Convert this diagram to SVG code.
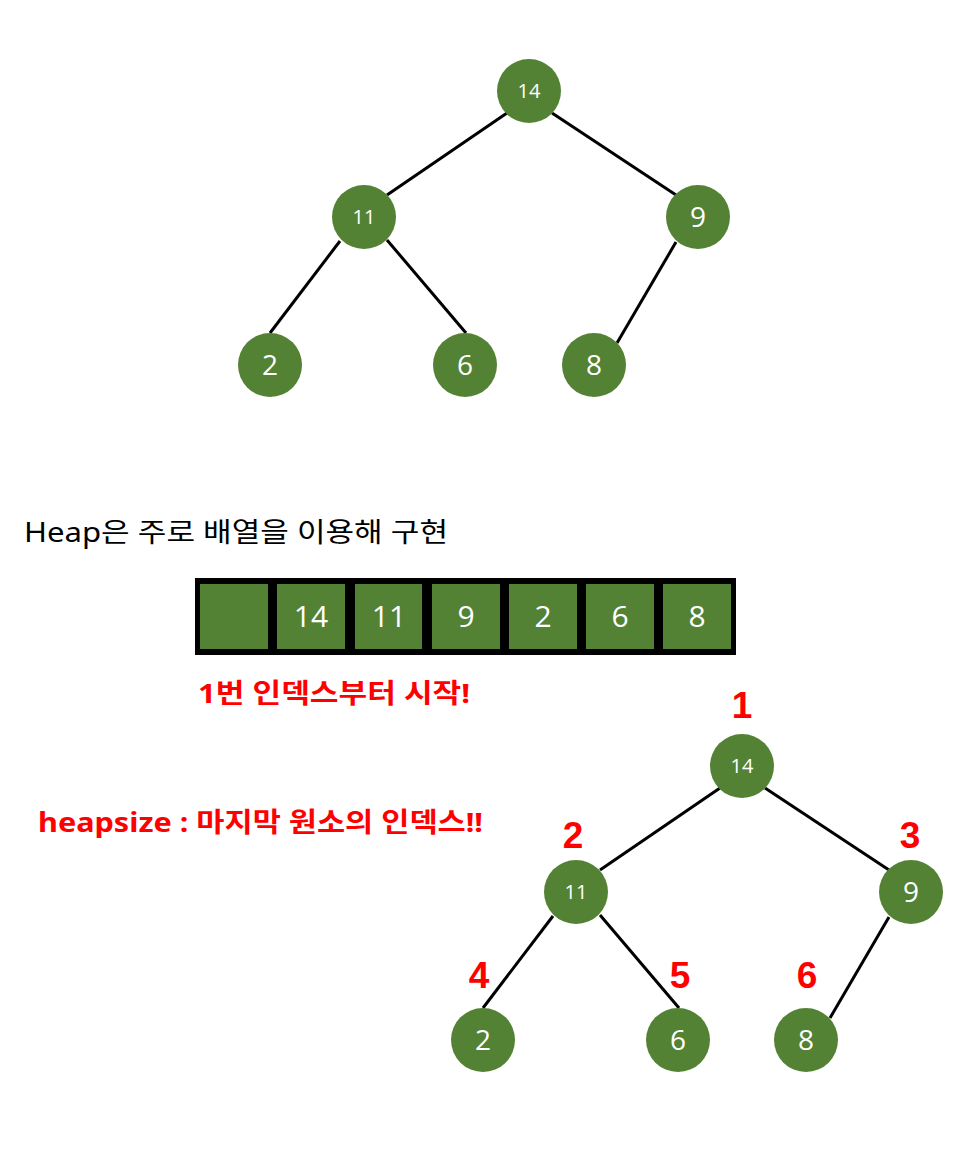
<svg xmlns="http://www.w3.org/2000/svg" width="976" height="1174" viewBox="0 0 976 1174">
<style>
.n{fill:#548235}
.e{stroke:#000;stroke-width:3;fill:none}
.t{fill:#fff;font-family:"Open Sans","Noto Sans",sans-serif;text-anchor:middle;font-size:28px}
.s{font-size:20px}
.a{fill:#fff;font-family:"Open Sans","Noto Sans",sans-serif;text-anchor:middle;font-size:30px}
.idx{fill:#ff0000;font-family:"Liberation Sans",Arial,sans-serif;font-weight:bold;text-anchor:middle;font-size:37px}
.kr{font-family:"Noto Sans","Noto Sans CJK KR",sans-serif;font-size:27px}
.red{fill:#ff0000;font-weight:bold}
</style>
<rect width="976" height="1174" fill="#fff"/>
<g id="edges-top">
<line class="e" x1="507" y1="113" x2="387" y2="195"/>
<line class="e" x1="552" y1="113" x2="676" y2="195"/>
<line class="e" x1="340" y1="241" x2="270" y2="333"/>
<line class="e" x1="387" y1="240" x2="466" y2="333"/>
<line class="e" x1="676" y1="242" x2="617" y2="343"/>
</g>
<g id="t14"><circle class="n" cx="529" cy="91" r="32"/><text class="t s" x="529" y="98">14</text></g>
<g id="t11"><circle class="n" cx="364" cy="217" r="32"/><text class="t s" x="364" y="224">11</text></g>
<g id="t9"><circle class="n" cx="698" cy="217" r="32"/><text class="t" x="698" y="227">9</text></g>
<g id="t2"><circle class="n" cx="270" cy="365" r="32"/><text class="t" x="270" y="375">2</text></g>
<g id="t6"><circle class="n" cx="465" cy="365" r="32"/><text class="t" x="465" y="375">6</text></g>
<g id="t8"><circle class="n" cx="594" cy="365" r="32"/><text class="t" x="594" y="375">8</text></g>
<text class="kr" x="24" y="542" textLength="424" lengthAdjust="spacingAndGlyphs">Heap은 주로 배열을 이용해 구현</text>
<g id="array">
<rect x="195" y="578" width="541" height="77" fill="#000"/>
<rect class="n" x="200" y="584" width="68" height="65"/>
<rect class="n" x="277" y="584" width="68" height="65"/>
<rect class="n" x="355" y="584" width="67" height="65"/>
<rect class="n" x="432" y="584" width="68" height="65"/>
<rect class="n" x="509" y="584" width="68" height="65"/>
<rect class="n" x="586" y="584" width="68" height="65"/>
<rect class="n" x="663" y="584" width="68" height="65"/>
<text class="a" x="311" y="627">14</text>
<text class="a" x="389" y="627">11</text>
<text class="a" x="466" y="627">9</text>
<text class="a" x="543" y="627">2</text>
<text class="a" x="620" y="627">6</text>
<text class="a" x="697" y="627">8</text>
</g>
<text class="kr red" x="198" y="703" textLength="272" lengthAdjust="spacingAndGlyphs">1번 인덱스부터 시작!</text>
<text class="kr red" x="38" y="832" textLength="445" lengthAdjust="spacingAndGlyphs">heapsize : 마지막 원소의 인덱스!!</text>
<g id="edges-bottom">
<line class="e" x1="720" y1="788" x2="600" y2="870"/>
<line class="e" x1="765" y1="788" x2="889" y2="870"/>
<line class="e" x1="553" y1="916" x2="483" y2="1008"/>
<line class="e" x1="600" y1="915" x2="679" y2="1008"/>
<line class="e" x1="889" y1="917" x2="830" y2="1018"/>
</g>
<g id="b14"><circle class="n" cx="742" cy="766" r="32"/><text class="t s" x="742" y="773">14</text></g>
<g id="b11"><circle class="n" cx="576" cy="892" r="32"/><text class="t s" x="576" y="899">11</text></g>
<g id="b9"><circle class="n" cx="911" cy="892" r="32"/><text class="t" x="911" y="902">9</text></g>
<g id="b2"><circle class="n" cx="483" cy="1040" r="32"/><text class="t" x="483" y="1050">2</text></g>
<g id="b6"><circle class="n" cx="678" cy="1040" r="32"/><text class="t" x="678" y="1050">6</text></g>
<g id="b8"><circle class="n" cx="806" cy="1040" r="32"/><text class="t" x="806" y="1050">8</text></g>
<g id="labels">
<text class="idx" x="742" y="718">1</text>
<text class="idx" x="573" y="848">2</text>
<text class="idx" x="910" y="848">3</text>
<text class="idx" x="479" y="988">4</text>
<text class="idx" x="680" y="988">5</text>
<text class="idx" x="807" y="988">6</text>
</g>
</svg>
